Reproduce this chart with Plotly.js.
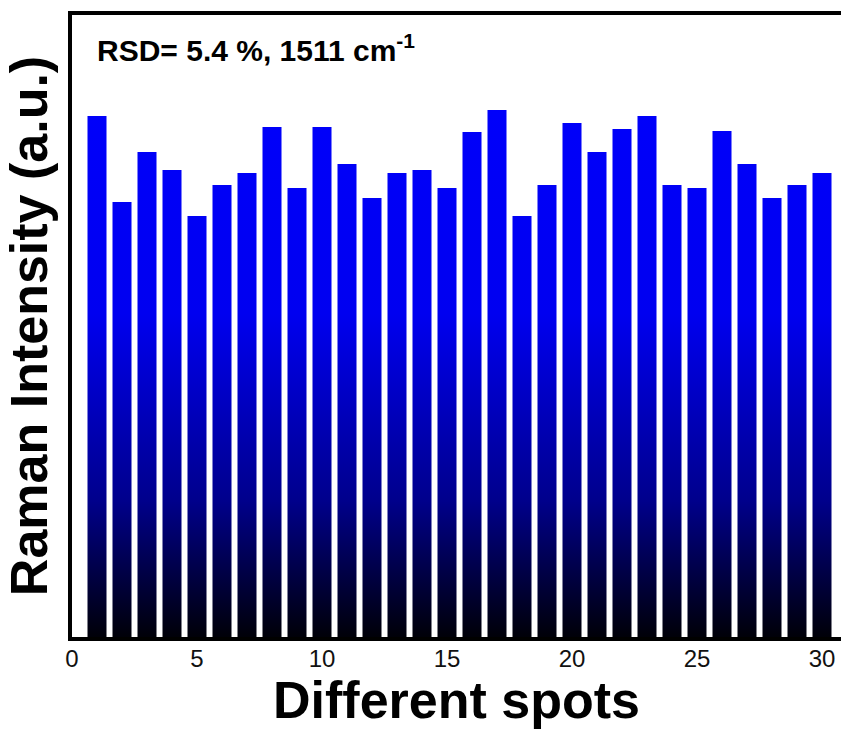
<!DOCTYPE html>
<html>
<head>
<meta charset="utf-8">
<script src="https://cdn.plot.ly/plotly-3.0.1.min.js"></script>
<style>
  html, body { margin: 0; padding: 0; background: #ffffff; }
  #chart { width: 841px; height: 729px; }
</style>
</head>
<body>
<div id="chart"></div>
<script>
// Spot index (x) and Raman intensity at 1511 cm-1 (arbitrary units)
var spots = [1,2,3,4,5,6,7,8,9,10,11,12,13,14,15,16,17,18,19,20,21,22,23,24,25,26,27,28,29,30];
var intensity = [521,435,485,467,421,452,464,510,449,510,473,439,464,467,449,505,527,421,452,514,485,508,521,452,449,506,473,439,452,464];
var xTickVals = [0,5,10,15,20,25,30];
var xTickText = ['0','5','10','15','20','25','30'];
var annotationText = 'RSD= 5.4 %, 1511 cm<sup>-1</sup>';

var FONT = 'Arial, "Liberation Sans", Helvetica, sans-serif';

var trace = {
  type: 'bar',
  x: spots,
  y: intensity,
  marker: { color: '#0000ff', line: { width: 0 } },
  hoverinfo: 'x+y'
};

var layout = {
  width: 841,
  height: 729,
  margin: { l: 72, r: 0, t: 15, b: 92 },
  paper_bgcolor: '#ffffff',
  plot_bgcolor: '#ffffff',
  bargap: 0.24,
  showlegend: false,
  font: { family: FONT, color: '#000000' },
  xaxis: {
    range: [0, 30.76],
    tickvals: xTickVals,
    ticktext: xTickText,
    ticks: '',
    ticklabelstandoff: -3,
    showgrid: false,
    zeroline: false,
    showline: true,
    linecolor: '#000000',
    linewidth: 4,
    mirror: true,
    tickfont: { family: FONT, size: 24, color: '#111111' },
    title: { text: '<b>Different spots</b>', font: { family: FONT, size: 52, color: '#000000' }, standoff: 12 }
  },
  yaxis: {
    range: [0, 622],
    showticklabels: false,
    ticks: '',
    showgrid: false,
    zeroline: false,
    showline: true,
    linecolor: '#000000',
    linewidth: 4,
    mirror: false,
    title: { text: '<b>Raman Intensity (a.u.)</b>', font: { family: FONT, size: 52, color: '#000000' }, standoff: 7 }
  },
  annotations: [{
    text: '<b>' + annotationText + '</b>',
    xref: 'paper', yref: 'paper',
    x: 0.03, y: 0.981,
    xanchor: 'left', yanchor: 'top',
    showarrow: false,
    font: { family: FONT, size: 30, color: '#000000' }
  }]
};

Plotly.newPlot('chart', [trace], layout, { displayModeBar: false, staticPlot: true }).then(function (gd) {
  // vertical blue-to-black gradient fill for the bars
  var svg = gd.querySelector('svg.main-svg');
  var ns = 'http://www.w3.org/2000/svg';
  var defs = svg.querySelector('defs') || svg.insertBefore(document.createElementNS(ns, 'defs'), svg.firstChild);
  var grad = document.createElementNS(ns, 'linearGradient');
  grad.setAttribute('id', 'barGrad');
  grad.setAttribute('gradientUnits', 'userSpaceOnUse');
  grad.setAttribute('x1', '0'); grad.setAttribute('x2', '0');
  grad.setAttribute('y1', '0'); grad.setAttribute('y2', String(gd._fullLayout._size.h));
  var stops = [[0, '#0000ff'], [0.48, '#0000f0'], [0.78, '#00008c'], [1, '#000008']];
  stops.forEach(function (s) {
    var st = document.createElementNS(ns, 'stop');
    st.setAttribute('offset', s[0]);
    st.setAttribute('stop-color', s[1]);
    grad.appendChild(st);
  });
  defs.appendChild(grad);
  gd.querySelectorAll('.barlayer .point path').forEach(function (p) {
    p.style.fill = 'url(#barGrad)';
  });
});
</script>
</body>
</html>
